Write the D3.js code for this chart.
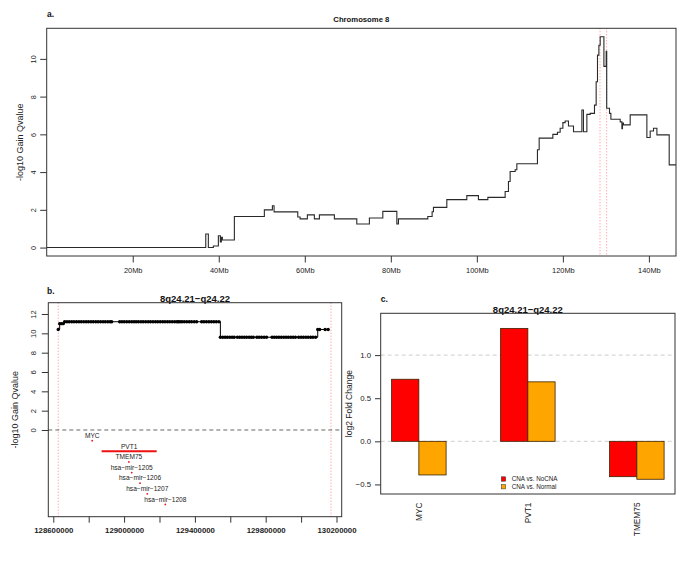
<!DOCTYPE html>
<html>
<head>
<meta charset="utf-8">
<script src="https://cdn.jsdelivr.net/npm/d3@7/dist/d3.min.js"></script>
<style>
  html, body { margin: 0; padding: 0; background: #fff; }
  svg { display: block; font-family: "Liberation Sans", Arial, Helvetica, sans-serif; }
</style>
</head>
<body>
<svg id="chart" width="685" height="570"></svg>
<script>
// ---------------- Panel a: chromosome 8 step profile (Mb, -log10 q) ----------------
const chrSegStartMb = [0, 36.98, 37.58, 38.74, 39.91, 40.37, 40.60, 40.84, 43.63, 50.60, 52.47, 52.86,
  58.37, 58.91, 60.60, 62.23, 63.40, 66.88, 72.09, 75.02, 78.14, 81.40, 81.77, 88.60, 89.60, 89.91,
  93.02, 97.67, 100.37, 102.56, 106.58, 107.35, 107.74, 108.91, 109.30, 114.09, 114.49, 117.67,
  118.74, 119.37, 120.00, 120.53, 121.30, 122.47, 124.42, 124.79, 125.58, 126.35, 127.35, 127.74,
  128.05, 128.37, 128.67, 129.54, 130.07, 130.19, 130.84, 131.16, 133.33, 133.72, 133.86, 134.09,
  135.65, 139.53, 140.30, 141.07, 141.86, 144.72];
const chrSegValue = [0, 0.72, 0, 0.08, 0.63, 0.30, 0.55, 0.40, 1.65, 2.00, 2.22, 1.89,
  1.62, 1.52, 1.73, 1.52, 1.73, 1.52, 1.25, 1.57, 1.92, 1.25, 1.52, 1.65, 1.90, 2.13,
  2.54, 2.75, 2.54, 2.66, 2.97, 3.50, 4.03, 4.12, 4.44, 5.18, 5.80, 6.00,
  6.11, 6.32, 6.62, 6.71, 6.44, 6.14, 7.29, 6.14, 7.06, 7.11, 7.55, 8.79,
  10.20, 10.72, 11.17, 9.60, 10.40, 7.38, 7.11, 6.80, 6.66, 6.30, 6.60, 6.50,
  7.03, 5.83, 6.18, 6.32, 5.97, 4.38];
const chrEndMb = 146.3;
const chrXTicksMb = [20, 40, 60, 80, 100, 120, 140];
const chrYTicks = [0, 2, 4, 6, 8, 10];
const regionBoundsKb = [128628, 130169];

// ---------------- Panel b: probes in 8q24.21-q24.22 (kb) ----------------
const probePosKb = [128628,
  128636, 128646, 128656,
  128664, 128677, 128690, 128704, 128717, 128731, 128745, 128758, 128772, 128786, 128799, 128813,
  128826, 128840, 128853, 128867, 128881, 128894, 128908, 128921, 128930,
  128975, 128988, 129001, 129015, 129029, 129043, 129056,
  129068, 129081, 129095, 129108, 129122, 129136, 129149, 129163, 129177, 129190, 129204, 129218,
  129231, 129245, 129258, 129272, 129286, 129299, 129306,
  129316, 129327, 129340, 129354, 129368, 129381, 129396, 129410,
  129438, 129451, 129465, 129479, 129493, 129507, 129521, 129536,
  129544, 129557, 129570, 129583, 129597, 129610, 129622,
  129640, 129653, 129666, 129679, 129692, 129706, 129718, 129730,
  129750, 129763, 129777, 129791, 129805,
  129836, 129849, 129862, 129875, 129888, 129902, 129915, 129928, 129942, 129955, 129968,
  129986, 130000, 130013, 130027, 130040, 130054, 130067, 130082,
  130094, 130105, 130136, 130153];
const probeSegStartKb = [128620, 128634, 128660, 129540, 130090];
const probeSegValue = [10.4, 11.0, 11.2, 9.6, 10.4];
const regionXTicksKb = [128600, 128800, 129000, 129200, 129400, 129600, 129800, 130000, 130200];
const regionXLabelsKb = [128600, 129000, 129400, 129800, 130200];
const regionYTicks = [0, 2, 4, 6, 8, 10, 12];

const geneNames = ["MYC", "PVT1", "TMEM75", "hsa\u2212mir\u22121205", "hsa\u2212mir\u22121206", "hsa\u2212mir\u22121207", "hsa\u2212mir\u22121208"];
const geneStartKb = [128818, 128873, 129026, 129042, 129089, 129130, 129232];
const geneEndKb   = [128822, 129184, 129028, 129044, 129091, 129132, 129234];
const geneRowY = [-1.1, -2.2, -3.3, -4.4, -5.5, -6.6, -7.7];

// ---------------- Panel c: log2 fold change ----------------
const fcGenes = ["MYC", "PVT1", "TMEM75"];
const fcSeries = ["CNA vs. NoCNA", "CNA vs. Normal"];
const fcNoCNA = [0.72, 1.31, -0.41];
const fcNormal = [-0.39, 0.69, -0.44];
const fcYTicks = [-0.5, 0.0, 0.5, 1.0];
const fcGridLines = [0, 1];
const fcColors = ["#ff0000", "#ffa500"];

const svg = d3.select("#chart");
svg.append("rect").attr("width", 685).attr("height", 570).attr("fill", "#fff");
const FONT = '"Liberation Sans", Arial, Helvetica, sans-serif';

function boxRect(g, x0, y0, x1, y1) {
  g.append("rect").attr("x", x0).attr("y", y0).attr("width", x1 - x0).attr("height", y1 - y0)
    .attr("fill", "none").attr("stroke", "#333").attr("stroke-width", 1);
}
function styleAxis(sel, size, bold) {
  sel.select(".domain").remove();
  sel.selectAll(".tick line").attr("stroke", "#333");
  sel.selectAll(".tick text").attr("font-size", size).attr("fill", "#222")
    .attr("font-family", FONT).attr("font-weight", bold ? "bold" : "normal");
}

// ================= Panel a =================
{
  const L = 46.7, R = 676, T = 28.3, B = 256;
  const x = d3.scaleLinear().domain([0, chrEndMb]).range([L, R]);
  const y = d3.scaleLinear().domain([-0.447, 11.62]).range([B, T]);
  const g = svg.append("g");

  regionBoundsKb.forEach(v => {
    g.append("line").attr("x1", x(v / 1000)).attr("x2", x(v / 1000)).attr("y1", T).attr("y2", B)
      .attr("stroke", "#ff6a6a").attr("stroke-width", 0.8).attr("stroke-dasharray", "1,2");
  });

  const pts = chrSegStartMb.map((s, i) => [s, chrSegValue[i]]);
  pts.push([chrEndMb, chrSegValue[chrSegValue.length - 1]]);
  g.append("path").datum(pts)
    .attr("d", d3.line().x(d => x(d[0])).y(d => y(d[1])).curve(d3.curveStepAfter))
    .attr("fill", "none").attr("stroke", "#2a2a2a").attr("stroke-width", 1.1);

  boxRect(g, L, T, R, B);

  const ax = g.append("g").attr("transform", `translate(0,${B})`)
    .call(d3.axisBottom(x).tickValues(chrXTicksMb).tickSize(6.5).tickPadding(5).tickFormat(d => d + "Mb"));
  styleAxis(ax, 7.4, false);

  const ay = g.append("g").attr("transform", `translate(${L},0)`)
    .call(d3.axisLeft(y).tickValues(chrYTicks).tickSize(6.5).tickFormat(d3.format("d")));
  styleAxis(ay, 7.3, false);
  ay.selectAll(".tick text").attr("x", null).attr("text-anchor", "middle")
    .attr("transform", "translate(-13.5,0) rotate(-90)").attr("dy", "0.35em");

  g.append("text").attr("x", 20).attr("y", (T + B) / 2).attr("transform", `rotate(-90,20,${(T + B) / 2})`)
    .attr("text-anchor", "middle").attr("dy", "0.35em").attr("font-size", 9).attr("fill", "#222")
    .text("-log10 Gain Qvalue");
  g.append("text").attr("x", (L + R) / 2).attr("y", 19).attr("dy", "0.35em").attr("text-anchor", "middle")
    .attr("font-size", 7.7).attr("font-weight", "bold").attr("fill", "#111").text("Chromosome 8");
  g.append("text").attr("x", 47).attr("y", 14).attr("dy", "0.35em")
    .attr("font-size", 8.5).attr("font-weight", "bold").attr("fill", "#111").text("a.");
}

// ================= Panel b =================
{
  const L = 48.3, R = 341.7, T = 302.7, B = 516.7;
  const x = d3.scaleLinear().domain([128571.8, 130229.4]).range([L, R]);
  const y = d3.scaleLinear().domain([-8.97, 13.17]).range([B, T]);
  const g = svg.append("g");

  regionBoundsKb.forEach(v => {
    g.append("line").attr("x1", x(v)).attr("x2", x(v)).attr("y1", T).attr("y2", B)
      .attr("stroke", "#ff6a6a").attr("stroke-width", 0.8).attr("stroke-dasharray", "1,2");
  });
  g.append("line").attr("x1", L).attr("x2", R).attr("y1", y(0)).attr("y2", y(0))
    .attr("stroke", "#555").attr("stroke-width", 0.9).attr("stroke-dasharray", "4,3");

  const segOf = p => { let k = 0; probeSegStartKb.forEach((s, i) => { if (p >= s) k = i; }); return probeSegValue[k]; };
  const probes = probePosKb.map(p => [p, segOf(p)]);
  g.append("path").datum(probes)
    .attr("d", d3.line().x(d => x(d[0])).y(d => y(d[1])).curve(d3.curveStepAfter))
    .attr("fill", "none").attr("stroke", "#000").attr("stroke-width", 1);
  g.selectAll("circle.probe").data(probes).enter().append("circle")
    .attr("cx", d => x(d[0])).attr("cy", d => y(d[1])).attr("r", 1.7).attr("fill", "#000");

  geneNames.forEach((name, i) => {
    const gy = y(geneRowY[i]);
    const xs = x(geneStartKb[i]), xe = x(geneEndKb[i]);
    if (xe - xs > 3) {
      g.append("line").attr("x1", xs).attr("x2", xe).attr("y1", gy).attr("y2", gy)
        .attr("stroke", "#ee1111").attr("stroke-width", 1.8);
    } else {
      g.append("circle").attr("cx", (xs + xe) / 2).attr("cy", gy).attr("r", 0.9).attr("fill", "#ee1111");
    }
    g.append("text").attr("x", (xs + xe) / 2).attr("y", gy - 5).attr("dy", "0.35em")
      .attr("text-anchor", "middle").attr("font-size", 6.6).attr("fill", "#222").text(name);
  });

  boxRect(g, L, T, R, B);

  const ax = g.append("g").attr("transform", `translate(0,${B})`)
    .call(d3.axisBottom(x).tickValues(regionXTicksKb).tickSize(6).tickPadding(5)
      .tickFormat(d => regionXLabelsKb.includes(d) ? String(d * 1000) : ""));
  styleAxis(ax, 7.8, true);

  const ay = g.append("g").attr("transform", `translate(${L},0)`)
    .call(d3.axisLeft(y).tickValues(regionYTicks).tickSize(6.5).tickFormat(d3.format("d")));
  styleAxis(ay, 7.6, false);
  ay.selectAll(".tick text").attr("x", null).attr("text-anchor", "middle")
    .attr("transform", "translate(-14.5,0) rotate(-90)").attr("dy", "0.35em");

  g.append("text").attr("x", 15).attr("y", (T + B) / 2).attr("transform", `rotate(-90,15,${(T + B) / 2})`)
    .attr("text-anchor", "middle").attr("dy", "0.35em").attr("font-size", 9).attr("fill", "#222")
    .text("-log10 Gain Qvalue");
  g.append("text").attr("x", (L + R) / 2).attr("y", 299).attr("dy", "0.35em").attr("text-anchor", "middle")
    .attr("font-size", 9.5).attr("font-weight", "bold").attr("fill", "#111").text("8q24.21\u2212q24.22");
  g.append("text").attr("x", 47).attr("y", 290.7).attr("dy", "0.35em")
    .attr("font-size", 8.5).attr("font-weight", "bold").attr("fill", "#111").text("b.");
}

// ================= Panel c =================
{
  const L = 380.7, R = 675, T = 313.3, B = 494;
  const x0 = d3.scaleBand().domain(fcGenes).range([L, R]).paddingInner(0.5).paddingOuter(0.1);
  const x1 = d3.scaleBand().domain(fcSeries).range([0, x0.bandwidth()]);
  const y = d3.scaleLinear().domain([-0.611, 1.485]).range([B, T]);
  const g = svg.append("g");

  fcGridLines.forEach(v => {
    g.append("line").attr("x1", L).attr("x2", R).attr("y1", y(v)).attr("y2", y(v))
      .attr("stroke", "#cfcfcf").attr("stroke-width", 1).attr("stroke-dasharray", "4,3");
  });

  const seriesVals = [fcNoCNA, fcNormal];
  fcSeries.forEach((s, si) => {
    g.selectAll("rect.s" + si).data(fcGenes).enter().append("rect")
      .attr("x", d => x0(d) + x1(s))
      .attr("width", x1.bandwidth())
      .attr("y", (d, i) => y(Math.max(0, seriesVals[si][i])))
      .attr("height", (d, i) => Math.abs(y(seriesVals[si][i]) - y(0)))
      .attr("fill", fcColors[si]).attr("stroke", "#3a2200").attr("stroke-width", 0.8);
  });

  boxRect(g, L, T, R, B);

  const ay = g.append("g").attr("transform", `translate(${L},0)`)
    .call(d3.axisLeft(y).tickValues(fcYTicks).tickSize(5.7).tickPadding(4)
      .tickFormat(d => d3.format(".1f")(d).replace("-", "\u2212")));
  styleAxis(ay, 7.8, false);

  const ax = g.append("g").attr("transform", `translate(0,${B})`)
    .call(d3.axisBottom(x0).tickSize(0));
  styleAxis(ax, 8.3, false);
  ax.selectAll(".tick text").attr("y", null).attr("dy", "0.35em")
    .attr("text-anchor", "end").attr("transform", "translate(0,8.5) rotate(-90)");

  fcSeries.forEach((s, i) => {
    const ly = 479 + i * 7.7;
    g.append("rect").attr("x", 501.3).attr("y", ly - 2.2).attr("width", 4.4).attr("height", 4.4)
      .attr("fill", fcColors[i]).attr("stroke", "#333").attr("stroke-width", 0.5);
    g.append("text").attr("x", 511.7).attr("y", ly).attr("dy", "0.35em")
      .attr("font-size", 6.3).attr("fill", "#222").text(s);
  });

  g.append("text").attr("x", 349).attr("y", (T + B) / 2).attr("transform", `rotate(-90,349,${(T + B) / 2})`)
    .attr("text-anchor", "middle").attr("dy", "0.35em").attr("font-size", 8.5).attr("fill", "#222")
    .text("log2 Fold Change");
  g.append("text").attr("x", (L + R) / 2).attr("y", 309.3).attr("dy", "0.35em").attr("text-anchor", "middle")
    .attr("font-size", 9.5).attr("font-weight", "bold").attr("fill", "#111").text("8q24.21\u2212q24.22");
  g.append("text").attr("x", 380.7).attr("y", 299.3).attr("dy", "0.35em")
    .attr("font-size", 8.5).attr("font-weight", "bold").attr("fill", "#111").text("c.");
}
</script>
</body>
</html>
